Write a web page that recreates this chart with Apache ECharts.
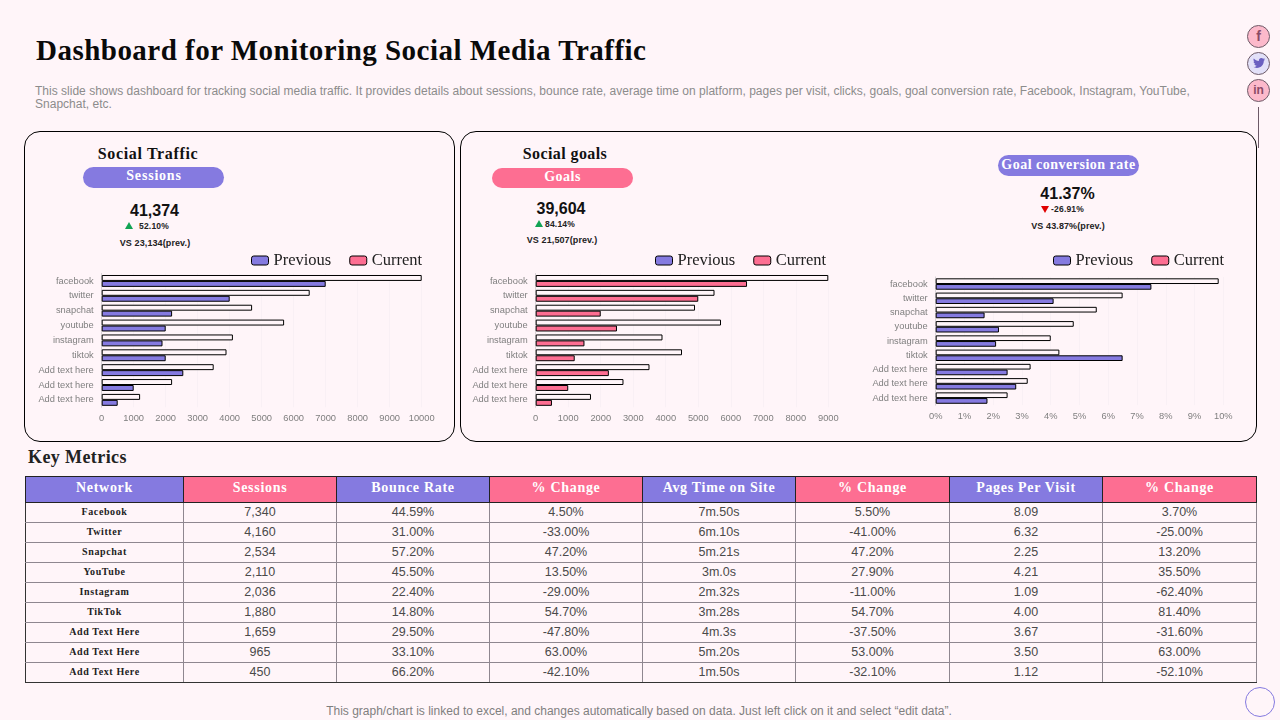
<!DOCTYPE html>
<html>
<head>
<meta charset="utf-8">
<title>Dashboard for Monitoring Social Media Traffic</title>
<script src="https://cdn.jsdelivr.net/npm/echarts@6/dist/echarts.min.js"></script>
<style>
  html, body { margin: 0; padding: 0; width: 1280px; height: 720px; overflow: hidden; background: #fff5f9; }
  body { position: relative; font-family: "Liberation Sans", sans-serif; }
  .abs { position: absolute; white-space: nowrap; }
  .center { transform: translate(-50%, -50%); }
  .serif { font-family: "Liberation Serif", serif; font-weight: bold; }
  .panel { position: absolute; border: 1px solid #000; border-radius: 16px; box-sizing: border-box; }
  .pill { position: absolute; border-radius: 11px; color: #fff; text-align: center; font: bold 14px "Liberation Serif", serif; letter-spacing: .5px; }
  .big { font: bold 16px "Liberation Sans", sans-serif; color: #111; }
  .small { font: bold 8.5px "Liberation Sans", sans-serif; color: #222; letter-spacing: .2px; }
  .vs { font: bold 9px "Liberation Sans", sans-serif; color: #222; letter-spacing: .1px; }
  .tri { position: absolute; width: 0; height: 0; border-left: 4px solid transparent; border-right: 4px solid transparent; }
  #charts { position: absolute; left: 0; top: 0; width: 1280px; height: 720px; }
  table { position: absolute; left: 25px; top: 476px; width: 1231px; border-collapse: collapse; table-layout: fixed; }
  th { height: 21px; padding: 0 0 4px; color: #fff; font: bold 14px "Liberation Serif", serif; letter-spacing: .7px; border: 1px solid #222; }
  td { height: 17px; padding: 0 0 2px; text-align: center; font-size: 12.5px; color: #4a4a4a; border: 1px solid #8f8790; }
  td:first-child { font: bold 10px "Liberation Serif", serif; letter-spacing: .6px; color: #222; border-left-color: #333; }
  tr:last-child td { border-bottom-color: #333; }
  .ico { position: absolute; left: 1247px; width: 23px; height: 23px; border: 1px solid #6d5a68; border-radius: 50%; box-sizing: border-box; text-align: center; color: #8b4a66; font: bold 14px/21px "Liberation Sans", sans-serif; }
</style>
</head>
<body>
<div class="abs" id="title" style="left:36px;top:34px;font:bold 29px 'Liberation Serif',serif;letter-spacing:.48px;color:#0a0a0a">Dashboard for Monitoring Social Media Traffic</div>
<div class="abs" style="left:35px;top:85px;width:1175px;white-space:normal;font-size:12px;letter-spacing:.01px;line-height:13px;color:#8c8c8c">This slide shows dashboard for tracking social media traffic. It provides details about sessions, bounce rate, average time on platform, pages per visit, clicks, goals, goal conversion rate, Facebook, Instagram, YouTube, Snapchat, etc.</div>

<div class="ico" style="top:25px;background:#fcb9cb">f</div>
<div class="ico" style="top:52px;background:#e2e0f8">
  <svg width="12" height="10" viewBox="0 0 24 20" style="margin-top:5px;display:block;margin-left:4.500px"><path fill="#6a5fc0" d="M24 2.400c-.9.400-1.800.7-2.800.8 1-.6 1.800-1.600 2.200-2.700-1 .6-2 1-3.100 1.200C19.300.7 18 0 16.600 0c-2.700 0-4.900 2.200-4.900 4.900 0 .4 0 .8.100 1.100C7.700 5.800 4.100 3.900 1.700.9 1.200 1.600 1 2.500 1 3.400c0 1.700.9 3.200 2.200 4.100-.8 0-1.600-.2-2.200-.6v.1c0 2.400 1.700 4.400 3.900 4.800-.7.200-1.500.2-2.200.1.600 2 2.400 3.400 4.600 3.400C5.600 17.100 3 18 .1 17.700 2.300 19.100 4.900 20 7.600 20c9 0 14-7.500 14-14v-.6c1-.7 1.800-1.600 2.400-3z"/></svg>
</div>
<div class="ico" style="top:79px;background:#fcb9cb;font-size:12px">in</div>
<div class="abs" style="left:1258px;top:107px;width:1px;height:41px;background:#6d5a68"></div>
<div class="abs" style="left:1245px;top:687px;width:30px;height:30px;box-sizing:border-box;border:1px solid #857ae0;border-radius:50%"></div>

<div class="panel" style="left:24px;top:131px;width:431px;height:311px"></div>
<div class="panel" style="left:460px;top:131px;width:797px;height:311px"></div>

<div class="abs center serif" style="left:148px;top:154px;font-size:16px;letter-spacing:.65px;color:#111">Social Traffic</div>
<div class="pill" style="left:83px;top:167px;width:141px;height:21px;line-height:18px;letter-spacing:.8px;padding-left:1px;box-sizing:border-box;background:#857ae0">Sessions</div>
<div class="abs center big" style="left:154.500px;top:211px">41,374</div>
<div class="tri" style="left:125px;top:222px;border-bottom:7px solid #12a354"></div>
<div class="abs small" style="left:139px;top:221px">52.10%</div>
<div class="abs center vs" style="left:155px;top:243px">VS 23,134(prev.)</div>

<div class="abs center serif" style="left:565px;top:154px;font-size:16px;letter-spacing:.4px;color:#111">Social goals</div>
<div class="pill" style="left:492px;top:168px;width:141px;height:20px;line-height:17px;background:#fd6e92">Goals</div>
<div class="abs center big" style="left:561px;top:209px">39,604</div>
<div class="tri" style="left:535px;top:220px;border-bottom:7px solid #12a354"></div>
<div class="abs small" style="left:545px;top:219px">84.14%</div>
<div class="abs center vs" style="left:562px;top:240px">VS 21,507(prev.)</div>

<div class="pill" style="left:998px;top:155px;width:141px;height:21px;line-height:19px;background:#857ae0">Goal conversion rate</div>
<div class="abs center big" style="left:1067.500px;top:194px">41.37%</div>
<div class="tri" style="left:1041px;top:206px;border-top:7px solid #e00000"></div>
<div class="abs small" style="left:1051px;top:204px">-26.91%</div>
<div class="abs center vs" style="left:1068px;top:226px">VS 43.87%(prev.)</div>

<div class="abs serif" style="left:28px;top:447px;font-size:18px;letter-spacing:.4px;color:#222">Key Metrics</div>
<table id="metrics"></table>
<div class="abs center" style="left:639px;top:711px;font-size:12px;color:#7f7f7f">This graph/chart is linked to excel, and changes automatically based on data. Just left click on it and select “edit data”.</div>

<div id="charts"></div>

<script>
const categories = ['facebook', 'twitter', 'snapchat', 'youtube', 'instagram', 'tiktok', 'Add text here', 'Add text here', 'Add text here'];

const sessionsTop = [10000, 6500, 4700, 5700, 4100, 3900, 3500, 2200, 1200];
const sessionsBottom = [7000, 4000, 2200, 2000, 1900, 2000, 2550, 1000, 500];
const goalsTop = [9000, 5500, 4900, 5700, 3900, 4500, 3500, 2700, 1700];
const goalsBottom = [6500, 5000, 2000, 2500, 1500, 1200, 2250, 1000, 500];
const rateTop = [9.84, 6.5, 5.6, 4.8, 4.0, 4.3, 3.3, 3.2, 2.5];
const rateBottom = [7.5, 4.1, 1.7, 2.2, 2.1, 6.5, 2.5, 2.8, 1.8];

const tableHead = ['Network', 'Sessions', 'Bounce Rate', '% Change', 'Avg Time on Site', '% Change', 'Pages Per Visit', '% Change'];
const networks = ['Facebook', 'Twitter', 'Snapchat', 'YouTube', 'Instagram', 'TikTok', 'Add Text Here', 'Add Text Here', 'Add Text Here'];
const sessions = ['7,340', '4,160', '2,534', '2,110', '2,036', '1,880', '1,659', '965', '450'];
const bounceRate = ['44.59%', '31.00%', '57.20%', '45.50%', '22.40%', '14.80%', '29.50%', '33.10%', '66.20%'];
const bounceChange = ['4.50%', '-33.00%', '47.20%', '13.50%', '-29.00%', '54.70%', '-47.80%', '63.00%', '-42.10%'];
const avgTime = ['7m.50s', '6m.10s', '5m.21s', '3m.0s', '2m.32s', '3m.28s', '4m.3s', '5m.20s', '1m.50s'];
const timeChange = ['5.50%', '-41.00%', '47.20%', '27.90%', '-11.00%', '54.70%', '-37.50%', '53.00%', '-32.10%'];
const pagesPerVisit = ['8.09', '6.32', '2.25', '4.21', '1.09', '4.00', '3.67', '3.50', '1.12'];
const pagesChange = ['3.70%', '-25.00%', '13.20%', '35.50%', '-62.40%', '81.40%', '-31.60%', '63.00%', '-52.10%'];

const PURPLE = '#857ae0';
const PINK = '#fd6e92';
const colWidths = [158, 153, 153, 153, 153, 154, 153, 154];

// table
const columns = [networks, sessions, bounceRate, bounceChange, avgTime, timeChange, pagesPerVisit, pagesChange];
let html = '<colgroup>' + colWidths.map(w => `<col style="width:${w}px">`).join('') + '</colgroup><tr>';
tableHead.forEach((t, i) => {
  html += `<th style="background:${i % 2 ? PINK : PURPLE}">${t}</th>`;
});
html += '</tr>';
networks.forEach((n, r) => {
  html += '<tr>' + columns.map(c => `<td>${c[r]}</td>`).join('') + '</tr>';
});
document.getElementById('metrics').innerHTML = html;

// charts
const panels = [
  { left: 101.7, width: 320, top: 273.5, height: 133.8, max: 10000, interval: 1000, fmt: v => String(v),
    topData: sessionsTop, bottomData: sessionsBottom, color: PURPLE, topName: 'Current', bottomName: 'Previous', legendLeft: 251 },
  { left: 535.7, width: 292.6, top: 273.5, height: 133.8, max: 9000, interval: 1000, fmt: v => String(v),
    topData: goalsTop, bottomData: goalsBottom, color: PINK, topName: 'Previous', bottomName: 'Current', legendLeft: 655 },
  { left: 935.7, width: 287.6, top: 276.9, height: 128.3, max: 10, interval: 1, fmt: v => v + '%',
    topData: rateTop, bottomData: rateBottom, color: PURPLE, topName: 'Current', bottomName: 'Previous', legendLeft: 1053 }
];

const chart = echarts.init(document.getElementById('charts'));
const labelStyle = { color: '#7f7f7f', fontSize: 9.3, fontFamily: 'Liberation Sans' };
const option = {
  animation: false,
  backgroundColor: 'transparent',
  grid: panels.map(p => ({ left: p.left, top: p.top, width: p.width, height: p.height })),
  xAxis: panels.map((p, i) => ({
    type: 'value', gridIndex: i, min: 0, max: p.max, interval: p.interval,
    axisLine: { show: false }, axisTick: { show: false },
    axisLabel: { ...labelStyle, formatter: p.fmt, margin: 7 },
    splitLine: { lineStyle: { color: '#f9f0f5', width: 1 } }
  })),
  yAxis: panels.map((p, i) => ({
    type: 'category', gridIndex: i, inverse: true, data: categories,
    axisLine: { lineStyle: { color: '#d9d2d6' } }, axisTick: { show: false },
    axisLabel: { ...labelStyle, margin: 8, interval: 0 }
  })),
  legend: panels.map(p => ({
    left: p.legendLeft, top: 252, itemWidth: 17, itemHeight: 9, itemGap: 18,
    selectedMode: false, icon: 'roundRect', padding: 0,
    textStyle: { fontFamily: 'Liberation Serif', fontSize: 16.5, color: '#222' },
    data: [
      { name: 'Previous', itemStyle: { color: PURPLE, borderColor: '#000', borderWidth: 1 } },
      { name: 'Current', itemStyle: { color: PINK, borderColor: '#000', borderWidth: 1 } }
    ]
  })),
  series: panels.flatMap((p, i) => [
    { name: p.topName, type: 'bar', xAxisIndex: i, yAxisIndex: i, data: p.topData, barGap: 0, barCategoryGap: '20%',
      itemStyle: { color: '#fff5f9', borderColor: '#000', borderWidth: 1 } },
    { name: p.bottomName, type: 'bar', xAxisIndex: i, yAxisIndex: i, data: p.bottomData,
      itemStyle: { color: p.color, borderColor: '#000', borderWidth: 1 } }
  ])
};
chart.setOption(option);
</script>
</body>
</html>
